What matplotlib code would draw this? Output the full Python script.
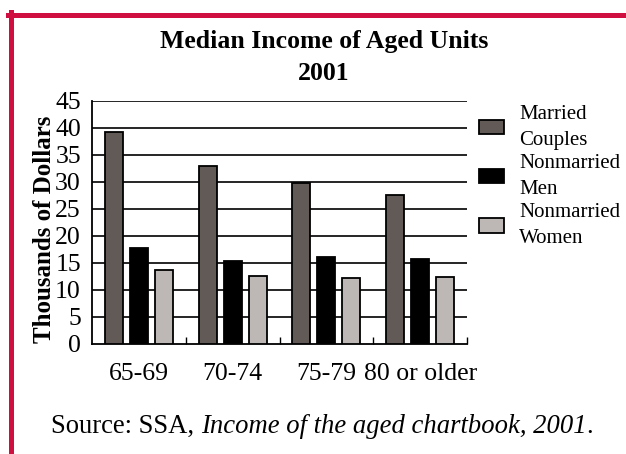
import matplotlib
matplotlib.use("Agg")
import matplotlib.pyplot as plt
from matplotlib.lines import Line2D
import numpy as np

plt.rcParams['font.family'] = ['Liberation Serif', 'DejaVu Serif']

age_groups = ["65-69", "70-74", "75-79", "80 or older"]
series_names = ["Married\nCouples", "Nonmarried\nMen", "Nonmarried\nWomen"]
married = [39.3, 33.0, 29.7, 27.5]
men = [17.7, 15.3, 16.0, 15.8]
women = [13.6, 12.6, 12.2, 12.3]
colors = ["#625a57", "#000000", "#bdb8b5"]
yticks = list(range(0, 50, 5))

fig = plt.figure(figsize=(6.26, 4.54), dpi=100)
ax = fig.add_axes([92/626, 1-344/454, 375/626, 243.3/454])

x = np.arange(len(age_groups))
w = 0.192
step = 0.267
for i, (vals, name, c) in enumerate(zip([married, men, women], series_names, colors)):
    ax.bar(x + (i-1)*step, vals, width=w, color=c, edgecolor="black", linewidth=1.3,
           label=name, zorder=3)

ax.set_xlim(-0.5, len(age_groups)-0.5)
ax.set_ylim(0, 45)
ax.set_yticks(yticks)
for yv in yticks[1:]:
    ax.axhline(yv, color="black", linewidth=1.2, zorder=1)

ax.set_xticks(x)
ax.set_xticklabels(age_groups, fontsize=18.5)
ax.set_xticks(np.arange(len(age_groups)) + 0.5, minor=True)
ax.tick_params(axis="x", which="major", length=0, pad=14)
ax.tick_params(axis="x", which="minor", direction="in", length=5, width=1)
ax.tick_params(axis="y", length=0, pad=8, labelsize=18.5)

for s in ["top", "right"]:
    ax.spines[s].set_visible(False)
ax.spines["left"].set_linewidth(1.3)
ax.spines["bottom"].set_linewidth(1.3)

ax.set_ylabel("Thousands of Dollars", fontsize=18, fontweight="bold")
ax.yaxis.set_label_coords(-0.096, 0.47)

fig.text(324/626, 1-48/454, "Median Income of Aged Units", ha="center", va="baseline",
         fontsize=18.5, fontweight="bold")
fig.text(324/626, 1-80/454, "2001", ha="center", va="baseline",
         fontsize=18.5, fontweight="bold")

fig.legend(loc="upper left", bbox_to_anchor=(479/626, 1-105/454), frameon=False,
           fontsize=15, handlelength=1.2, handleheight=0.67, handletextpad=0.72,
           labelspacing=0.2, borderpad=0, borderaxespad=0)
for t in fig.legends[0].get_texts():
    t.set_linespacing(1.5)

src = fig.text(51/626, 1-433/454, "Source: SSA, ", ha="left", va="baseline", fontsize=19.2)
ital = ax.annotate("Income of the aged chartbook, 2001", xy=(1, 0), xycoords=src,
                   ha="left", va="bottom", fontsize=19.2, style="italic",
                   annotation_clip=False)
ax.annotate(".", xy=(1, 0), xycoords=ital, ha="left", va="bottom", fontsize=19.2,
            annotation_clip=False)

red = "#cf0f40"
fig.add_artist(Line2D([8/626, 1], [1-14.5/454, 1-14.5/454], color=red, linewidth=3.6,
                      transform=fig.transFigure))
fig.add_artist(Line2D([11/626, 11/626], [0, 1-12/454], color=red, linewidth=3.6,
                      transform=fig.transFigure))

fig.savefig("out.png", dpi=100)
